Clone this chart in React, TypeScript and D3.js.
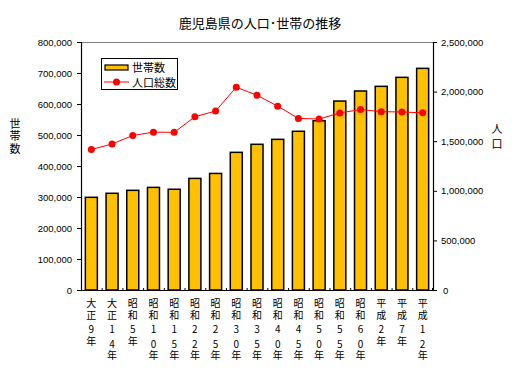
import React from "react";
import * as d3 from "d3";

const categories = ["大正9年","大正14年","昭和5年","昭和10年","昭和15年","昭和22年","昭和25年","昭和30年","昭和35年","昭和40年","昭和45年","昭和50年","昭和55年","昭和60年","平成2年","平成7年","平成12年"];
const households = [299000,312000,321500,331000,325000,360000,376000,444000,470000,486000,512000,546000,609500,642000,657000,686000,715000];
const population = [1415582,1472193,1556690,1591466,1589467,1746305,1804118,2044112,1963104,1853541,1729150,1723902,1784623,1819270,1797824,1794224,1786194];
const leftTicks = [0,100000,200000,300000,400000,500000,600000,700000,800000];
const rightTicks = [0,500000,1000000,1500000,2000000,2500000];
const title = "鹿児島県の人口･世帯の推移";
const leftTitle = ["世","帯","数"];
const rightTitle = ["人","口"];
const legendLabels = ["世帯数","人口総数"];

const W = 520, H = 378;
const L = 81, R = 433, T = 42, B = 290;
const JP = "'Noto Sans CJK JP', sans-serif";
const NUM = "'Liberation Sans', Arial, sans-serif";
const fmt = d3.format(",");

function splitLabel(s: string): { ch: string; y: number }[] {
  const era = s.slice(0, 2);
  const num = s.slice(2, s.length - 1);
  const out: { ch: string; y: number }[] = [
    { ch: era[0], y: 302 },
    { ch: era[1], y: 314 },
  ];
  if (num.length === 1) {
    out.push({ ch: num, y: 328 });
    out.push({ ch: "年", y: 340 });
  } else {
    out.push({ ch: num[0], y: 328 });
    out.push({ ch: num[1], y: 343 });
    out.push({ ch: "年", y: 354 });
  }
  return out;
}

export default function App() {
  const x = d3.scaleBand<string>().domain(categories).range([L, R]).paddingInner(0.42).paddingOuter(0.21);
  const yL = d3.scaleLinear().domain([0, 800000]).range([B, T]);
  const yR = d3.scaleLinear().domain([0, 2500000]).range([B, T]);
  const step = x.step();
  const line = d3.line<number>()
    .x((_, i) => (x(categories[i]) as number) + x.bandwidth() / 2)
    .y((d) => yR(d));

  return (
    <svg width={W} height={H} style={{ position: "absolute", left: 0, top: 0, background: "#fff" }}>
      <rect x={0} y={0} width={W} height={H} fill="#fff" />
      <text x={260} y={22} textAnchor="middle" dominantBaseline="central" fontFamily={JP} fontSize={13} fill="#000">{title}</text>

      <line x1={L} x2={R} y1={T + 0.5} y2={T + 0.5} stroke="#808080" strokeWidth={1} />

      {households.map((v, i) => (
        <rect key={i} x={x(categories[i]) as number} y={yL(v)} width={x.bandwidth()} height={B - yL(v)}
          fill="#FFC000" stroke="#000" strokeWidth={1.5} />
      ))}

      <path d={line(population) as string} fill="none" stroke="#FF0000" strokeWidth={1} />
      {population.map((v, i) => (
        <circle key={i} cx={(x(categories[i]) as number) + x.bandwidth() / 2} cy={yR(v)} r={3.5} fill="#FF0000" />
      ))}

      <line x1={L + 0.5} x2={L + 0.5} y1={T} y2={B} stroke="#000" strokeWidth={1.2} />
      <line x1={R + 0.5} x2={R + 0.5} y1={T} y2={B} stroke="#000" strokeWidth={1.2} />
      <line x1={L} x2={R} y1={B + 0.5} y2={B + 0.5} stroke="#000" strokeWidth={1.2} />

      {leftTicks.map((t) => (
        <g key={t}>
          <line x1={L - 4} x2={L} y1={yL(t) + 0.5} y2={yL(t) + 0.5} stroke="#000" />
          <text x={72} y={yL(t)} textAnchor="end" dominantBaseline="central" fontFamily={NUM} fontSize={9.5} fill="#000">{fmt(t)}</text>
        </g>
      ))}
      {rightTicks.map((t) => (
        <g key={t}>
          <line x1={R} x2={R + 4} y1={yR(t) + 0.5} y2={yR(t) + 0.5} stroke="#000" />
          <text x={t === 0 ? 443 : 441} y={yR(t)} textAnchor="start" dominantBaseline="central" fontFamily={NUM} fontSize={9.5} fill="#000">{fmt(t)}</text>
        </g>
      ))}

      {categories.map((c, i) => (
        <line key={c} x1={L + step * i + 0.5} x2={L + step * i + 0.5} y1={B} y2={B - 2} stroke="#000" />
      ))}
      <line x1={R - 0.5} x2={R - 0.5} y1={B} y2={B - 2} stroke="#000" />

      {categories.map((c) => {
        const cx = (x(c) as number) + x.bandwidth() / 2;
        return (
          <text key={c} textAnchor="middle" dominantBaseline="central" fontFamily={JP} fontSize={10} fill="#000">
            {splitLabel(c).map((p, j) => (
              <tspan key={j} x={cx} y={p.y}>{p.ch}</tspan>
            ))}
          </text>
        );
      })}

      <text textAnchor="middle" dominantBaseline="central" fontFamily={JP} fontSize={11} fill="#000">
        {leftTitle.map((ch, j) => (
          <tspan key={j} x={15} y={122.5 + j * 12.8}>{ch}</tspan>
        ))}
      </text>
      <text textAnchor="middle" dominantBaseline="central" fontFamily={JP} fontSize={11} fill="#000">
        {rightTitle.map((ch, j) => (
          <tspan key={j} x={497} y={128 + j * 15}>{ch}</tspan>
        ))}
      </text>

      <rect x={101.5} y={58.5} width={76} height={31} fill="#fff" stroke="#000" strokeWidth={1} />
      <rect x={105} y={65} width={23} height={5} fill="#FFC000" stroke="#000" strokeWidth={1.2} />
      <text x={132} y={67} dominantBaseline="central" fontFamily={JP} fontSize={11} fill="#000">{legendLabels[0]}</text>
      <line x1={104} x2={129} y1={82} y2={82} stroke="#FF0000" strokeWidth={1} />
      <circle cx={116.5} cy={82} r={3.5} fill="#FF0000" />
      <text x={132} y={82} dominantBaseline="central" fontFamily={JP} fontSize={11} fill="#000">{legendLabels[1]}</text>
    </svg>
  );
}
